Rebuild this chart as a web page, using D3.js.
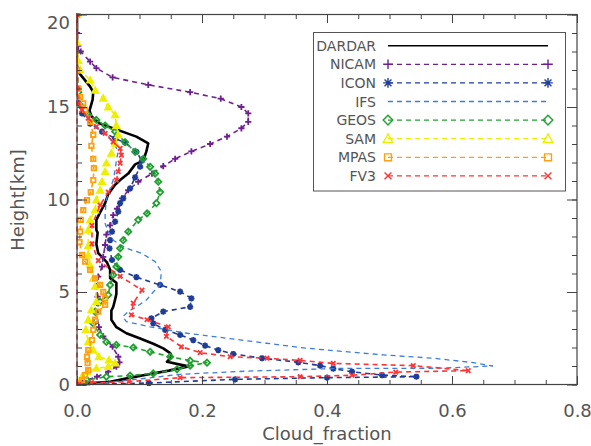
<!DOCTYPE html>
<html>
<head>
<meta charset="utf-8">
<script src="https://cdn.jsdelivr.net/npm/d3@7"></script>
<style>
  body { margin: 0; background: #fff; }
  text { font-family: "DejaVu Sans", sans-serif; fill: #555; }
</style>
</head>
<body>
<svg id="chart" width="591" height="446"></svg>
<script>
// profiles as [cloud_fraction, height_km], top to bottom
const dardar = [[0,20],[0,17.2],[0.002,16.9],[0.021,16.1],[0.026,15.8],[0.025,15.4],[0.020,14.8],[0.023,14.5],[0.037,14.1],[0.066,13.75],[0.095,13.4],[0.114,13.04],[0.111,12.6],[0.106,12.1],[0.093,11.9],[0.082,11.4],[0.069,11.05],[0.061,10.8],[0.050,10.3],[0.045,9.8],[0.037,9.3],[0.031,8.9],[0.031,8.35],[0.033,8.2],[0.031,7.6],[0.034,7.1],[0.048,6.6],[0.053,6.2],[0.053,5.75],[0.063,5.5],[0.063,4.9],[0.061,4.6],[0.058,4.2],[0.055,4.0],[0.055,3.5],[0.063,3.1],[0.079,2.77],[0.10,2.5],[0.122,2.2],[0.138,1.95],[0.149,1.7],[0.152,1.5],[0.144,1.23],[0.178,0.98],[0.147,0.75],[0.117,0.57],[0.08,0.33],[0.053,0.15],[0.024,0.08],[0.005,0]];
const nicam = [[0,20],[0,19],[0.002,18.3],[0.006,18.0],[0.021,17.45],[0.031,17.1],[0.057,16.6],[0.114,16.2],[0.181,15.8],[0.23,15.45],[0.263,15.0],[0.274,14.66],[0.274,14.2],[0.263,13.85],[0.24,13.4],[0.213,13.0],[0.183,12.6],[0.157,12.2],[0.138,11.8],[0.12,11.4],[0.098,10.96],[0.082,10.5],[0.072,10.06],[0.064,9.5],[0.058,9.16],[0.053,8.6],[0.047,8.1],[0.045,7.54],[0.042,6.9],[0.040,6.37],[0.034,5.83],[0.031,5.3],[0.033,4.75],[0.031,3.85],[0.035,3.1],[0.042,2.6],[0.057,2.04],[0.066,1.5],[0.068,1.2],[0.063,0.96],[0.05,0.7],[0.032,0.42],[0.012,0.2],[0.002,0]];
const icon = [[0,20],[0,18],[0.002,16],[0.003,15.2],[0.008,14.66],[0.021,14.1],[0.04,13.67],[0.061,13.3],[0.077,13.07],[0.095,12.58],[0.104,12.1],[0.101,11.77],[0.093,11.2],[0.085,10.6],[0.074,10.06],[0.069,9.8],[0.066,9.34],[0.061,8.8],[0.056,8.26],[0.053,7.8],[0.052,7.36],[0.056,6.73],[0.069,6.19],[0.095,5.8],[0.133,5.38],[0.165,5.02],[0.183,4.66],[0.181,4.2],[0.138,3.94],[0.119,3.58],[0.122,3.3],[0.141,2.95],[0.165,2.68],[0.186,2.4],[0.205,2.1],[0.226,1.86],[0.25,1.65],[0.296,1.42],[0.354,1.2],[0.389,1.02],[0.41,0.86],[0.44,0.69],[0.488,0.51],[0.543,0.42],[0.40,0.37],[0.253,0.28],[0.115,0.08],[0.01,0]];
const ifs = [[0,20],[0,16],[0.002,15.4],[0.01,14.8],[0.023,14.1],[0.042,13.6],[0.058,13.1],[0.066,12.6],[0.063,12.1],[0.061,11.6],[0.058,11.05],[0.053,10.6],[0.047,10.0],[0.045,9.25],[0.045,8.7],[0.05,8.26],[0.058,7.8],[0.079,7.36],[0.103,7.1],[0.125,6.64],[0.135,6.1],[0.133,5.38],[0.122,5.0],[0.111,4.57],[0.095,4.2],[0.082,3.94],[0.073,3.66],[0.079,3.4],[0.117,3.12],[0.176,2.77],[0.24,2.5],[0.303,2.23],[0.357,2.0],[0.41,1.83],[0.49,1.6],[0.57,1.42],[0.634,1.18],[0.665,1.0],[0.58,0.88],[0.42,0.87],[0.27,0.72],[0.165,0.55],[0.10,0.3],[0.02,0]];
const geos = [[0,20],[0,17],[0.002,15.8],[0.008,15.0],[0.018,14.57],[0.031,14.3],[0.045,14.0],[0.061,13.67],[0.077,13.1],[0.093,12.58],[0.106,12.2],[0.117,11.77],[0.125,11.4],[0.13,10.96],[0.133,10.4],[0.127,9.8],[0.112,9.25],[0.098,8.9],[0.082,8.26],[0.074,7.8],[0.069,7.36],[0.066,6.9],[0.063,6.37],[0.058,5.92],[0.053,5.38],[0.05,4.84],[0.037,4.48],[0.029,3.94],[0.026,3.3],[0.037,2.68],[0.047,2.3],[0.063,2.14],[0.09,2.0],[0.117,1.77],[0.149,1.5],[0.181,1.29],[0.208,1.18],[0.181,1.02],[0.16,0.82],[0.122,0.6],[0.085,0.48],[0.047,0.42],[0.016,0.24],[0.004,0.06]];
const sam = [[0,20],[0,18.5],[0.002,17.5],[0.005,17.0],[0.021,16.45],[0.029,15.9],[0.042,15.47],[0.05,15.0],[0.061,14.57],[0.063,14.0],[0.066,13.5],[0.061,13.04],[0.055,12.5],[0.047,11.96],[0.045,11.5],[0.040,10.96],[0.037,10.5],[0.031,9.97],[0.029,9.43],[0.021,8.9],[0.018,8.35],[0.018,7.5],[0.018,7.0],[0.021,6.46],[0.026,5.74],[0.029,5.3],[0.031,4.48],[0.023,4.03],[0.018,3.5],[0.014,2.95],[0.018,2.3],[0.026,1.86],[0.035,1.5],[0.051,1.32],[0.061,1.15],[0.05,0.96],[0.031,0.87],[0.016,0.69],[0.008,0.42],[0.002,0.06]];
const mpas = [[0,20],[0,17],[0.002,16],[0.005,15.55],[0.01,15.2],[0.013,14.84],[0.021,14.2],[0.026,13.5],[0.023,12.9],[0.026,12.2],[0.027,11.7],[0.026,11.05],[0.022,10.4],[0.016,9.97],[0.01,9.43],[0.006,8.9],[0.005,8.26],[0.004,7.7],[0.008,7.0],[0.013,6.64],[0.021,6.2],[0.029,5.74],[0.037,5.38],[0.042,5.0],[0.045,4.66],[0.045,4.3],[0.034,3.94],[0.029,3.5],[0.026,2.95],[0.024,2.4],[0.018,1.86],[0.016,1.5],[0.017,1.15],[0.018,0.78],[0.013,0.51],[0.008,0.24],[0.002,0.06]];
const fv3 = [[0,0],[0,20],[0,16],[0.002,15.2],[0.008,14.84],[0.018,14.4],[0.031,13.94],[0.045,13.58],[0.058,13.12],[0.069,12.76],[0.071,12.4],[0.069,11.96],[0.066,11.5],[0.063,11.05],[0.05,10.4],[0.037,9.7],[0.024,8.6],[0.024,7.6],[0.034,6.7],[0.069,5.85],[0.104,5.1],[0.09,4.4],[0.087,3.76],[0.112,3.5],[0.146,3.12],[0.143,2.6],[0.167,2.04],[0.197,1.72],[0.245,1.5],[0.304,1.42],[0.357,1.3],[0.41,1.14],[0.538,1.02],[0.626,0.75],[0.51,0.67],[0.44,0.5],[0.357,0.42],[0.165,0.37],[0.083,0.15],[0.023,0.1],[0.003,0]];

const names = ["DARDAR", "NICAM", "ICON", "IFS", "GEOS", "SAM", "MPAS", "FV3"];
const profiles = [dardar, nicam, icon, ifs, geos, sam, mpas, fv3];
const colors = ["#000000", "#6e2090", "#1f3c96", "#3c7ed8", "#20a030", "#eeee00", "#ffa010", "#ff3535"];
const markers = [null, "plus", "star", null, "diamond", "triangle", "square", "cross"];

const xTicks = [0, 0.2, 0.4, 0.6, 0.8];
const yTicks = [0, 5, 10, 15, 20];

const svg = d3.select("#chart");
const x = d3.scaleLinear([0, 0.8], [77, 577]);
const y = d3.scaleLinear([0, 20], [384.5, 14.5]);

// marker outlines, s = half size
function markerPath(type, s) {
    let t = s * 0.72;
    switch (type) {
        case "plus": return `M${-s},0H${s}M0,${-s}V${s}`;
        case "cross": return `M${-t},${-t}L${t},${t}M${-t},${t}L${t},${-t}`;
        case "star": return `M${-s},0H${s}M0,${-s}V${s}M${-t},${-t}L${t},${t}M${-t},${t}L${t},${-t}`;
        case "diamond": return `M0,${-s}L${s},0L0,${s}L${-s},0Z`;
        case "triangle": return `M0,${-s}L${s},${s * 0.8}L${-s},${s * 0.8}Z`;
        case "square": return `M${-t},${-t}H${t}V${t}H${-t}Z`;
    }
    return "";
}

svg.append("clipPath").attr("id", "plotclip")
    .append("rect").attr("x", 76).attr("y", 13).attr("width", 502).attr("height", 373);

let line = d3.line().x(d => x(d[0])).y(d => y(d[1]));
let plot = svg.append("g").attr("clip-path", "url(#plotclip)");

profiles.forEach((data, i) => {
    let g = plot.append("g");
    g.append("path")
        .attr("d", line(data))
        .attr("fill", "none")
        .attr("stroke", colors[i])
        .attr("stroke-width", i == 0 ? 2.6 : (i == 3 ? 1.3 : 1.6))
        .attr("stroke-dasharray", i == 0 ? null : "5,4")
        .attr("stroke-linejoin", "round");
    if (markers[i]) {
        // small plot markers look filled at this size
        g.selectAll("path.m")
            .data(data)
            .join("path")
            .attr("class", "m")
            .attr("transform", d => `translate(${x(d[0])},${y(d[1])})`)
            .attr("d", markerPath(markers[i], 3.1))
            .attr("fill", markers[i] == "triangle" ? colors[i] : "none")
            .attr("stroke", colors[i])
            .attr("stroke-width", 1.8);
    }
});

// axes: inward ticks on all four sides
function ticksFrom(lo, hi, step) {
    return d3.range(Math.round((hi - lo) / step) + 1).map(k => lo + k * step);
}
let xMinor = ticksFrom(0, 0.8, 0.05);
let yMinor = ticksFrom(0, 20, 1);

let axes = svg.append("g").attr("color", "#444");
axes.append("g").attr("transform", "translate(0,384.5)")
    .call(d3.axisBottom(x).tickValues(xMinor).tickSize(-4.5).tickFormat(""));
axes.append("g").attr("transform", "translate(0,384.5)")
    .call(d3.axisBottom(x).tickValues(xTicks).tickSize(-8.5).tickPadding(20).tickFormat(d3.format(".1f")));
axes.append("g").attr("transform", "translate(0,14.5)")
    .call(d3.axisTop(x).tickValues(xMinor).tickSize(-4.5).tickFormat(""));
axes.append("g").attr("transform", "translate(0,14.5)")
    .call(d3.axisTop(x).tickValues(xTicks).tickSize(-8.5).tickFormat(""));
axes.append("g").attr("transform", "translate(77,0)")
    .call(d3.axisLeft(y).tickValues(yMinor).tickSize(-5).tickFormat(""));
let yAxis = axes.append("g").attr("transform", "translate(77,0)")
    .call(d3.axisLeft(y).tickValues(yTicks).tickSize(-10).tickPadding(7).tickFormat(d3.format("d")));
axes.append("g").attr("transform", "translate(577,0)")
    .call(d3.axisRight(y).tickValues(yMinor).tickSize(-5).tickFormat(""));
axes.append("g").attr("transform", "translate(577,0)")
    .call(d3.axisRight(y).tickValues(yTicks).tickSize(-10).tickFormat(""));
axes.selectAll(".domain").remove();
axes.selectAll("text").attr("font-size", 18).attr("font-family", null).attr("fill", null);
// keep the top label inside the frame
yAxis.selectAll(".tick text").filter(d => d === 20).attr("dy", "0.8em");

svg.append("rect")
    .attr("x", 77).attr("y", 14.5).attr("width", 500).attr("height", 370)
    .attr("fill", "none").attr("stroke", "#444").attr("stroke-width", 1.2);

svg.append("text")
    .attr("x", 327).attr("y", 440)
    .attr("text-anchor", "middle").attr("font-size", 18)
    .text("Cloud_fraction");
svg.append("text")
    .attr("transform", "translate(24,200) rotate(-90)")
    .attr("text-anchor", "middle").attr("font-size", 18)
    .text("Height[km]");

// legend
let legend = svg.append("g");
legend.append("rect")
    .attr("x", 313.5).attr("y", 32.5).attr("width", 252).attr("height", 158.5)
    .attr("fill", "#fff").attr("stroke", "#555").attr("stroke-width", 1);
names.forEach((name, i) => {
    let ly = 45.7 + i * 18.6;
    legend.append("text")
        .attr("x", 376).attr("y", ly).attr("dy", "0.36em")
        .attr("text-anchor", "end").attr("font-size", 14)
        .text(name);
    legend.append("line")
        .attr("x1", 388).attr("x2", 548).attr("y1", ly).attr("y2", ly)
        .attr("stroke", colors[i])
        .attr("stroke-width", i == 0 ? 1.6 : 1.3)
        .attr("stroke-dasharray", i == 0 ? null : "5,4");
    if (markers[i]) {
        [388, 548].forEach(mx => {
            legend.append("path")
                .attr("transform", `translate(${mx},${ly})`)
                .attr("d", markerPath(markers[i], 4.8))
                .attr("fill", "none")
                .attr("stroke", colors[i])
                .attr("stroke-width", 1.4);
        });
    }
});
</script>
</body>
</html>
